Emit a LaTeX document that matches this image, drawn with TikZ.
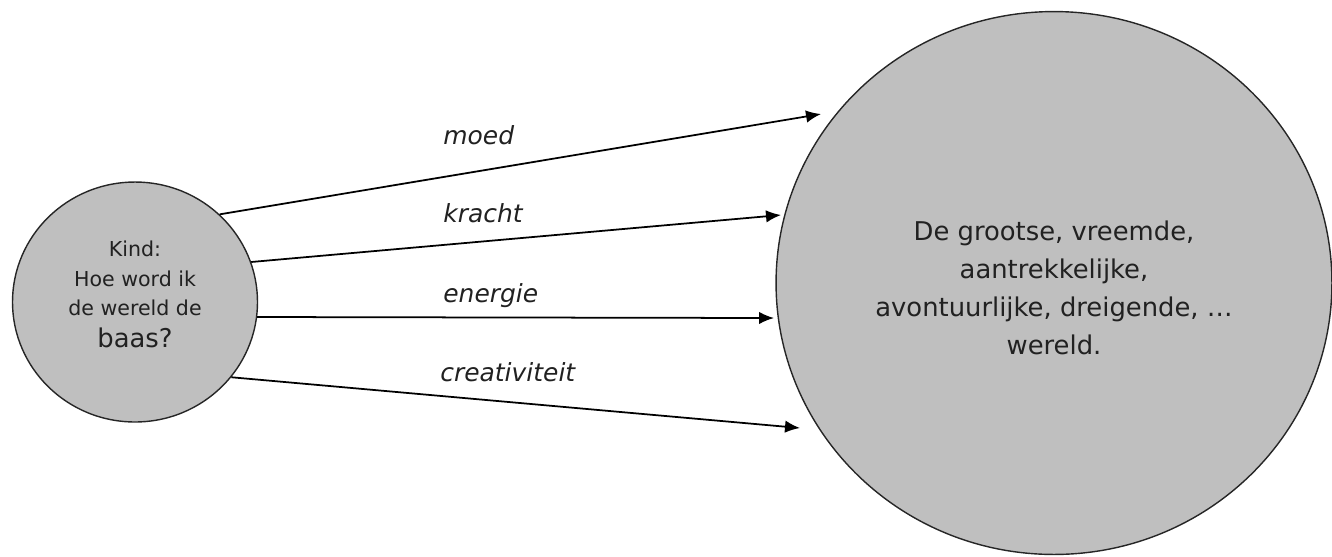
\documentclass[tikz,border=0pt]{standalone}
\usepackage{fontspec}
\setmainfont{DejaVu Sans}
\usetikzlibrary{arrows.meta,shapes.geometric}

\tikzset{
  bol/.style={ellipse, draw=black!85, fill=black!25, line width=0.8pt, inner sep=0pt, align=center, text=black!87},
  pijl/.style={-{Latex[length=0.3cm,width=0.25cm]}, line width=1pt},
  woord/.style={anchor=west, inner sep=0pt, text=black!87, font=\fontsize{14.2}{17}\selectfont\itshape}
}

\begin{document}
\begin{tikzpicture}[x=0.02cm,y=-0.02cm]
	\useasboundingbox (0,0) rectangle (1332,556);

	% De twee cirkels
	\node[bol, minimum width=4.9cm, minimum height=4.8cm, font=\fontsize{11.7}{17}\selectfont] (kind) at (135,302)
		{Kind:\\Hoe word ik\\de wereld de\\[1pt]{\fontsize{14.7}{17}\selectfont baas?}\rule[-9pt]{0pt}{9pt}};
	\node[bol, minimum width=11.12cm, minimum height=10.86cm, font=\fontsize{14.7}{21.6}\selectfont] (wereld) at (1054,283)
		{\rule{0pt}{17pt}De grootse, vreemde,\\aantrekkelijke,\\avontuurlijke, dreigende, …\\wereld.};

	% Eindpunten van de pijlen
	\coordinate (t1) at (821,114);
	\coordinate (t2) at (781,215);
	\coordinate (t3) at (774,318);
	\coordinate (t4) at (800,428);

	% Woorden boven de pijlen
	\node[woord] (moed) at (443,135) {moed};
	\node[woord] (kracht) at (443,213) {kracht};
	\node[woord] (energie) at (443,296) {energie};
	\node[woord] (creativiteit) at (440,372) {creativiteit};

	% Pijlen
	\foreach \van/\naar in {kind.46/t1, kind.19/t2, kind.-7/t3, kind.-38/t4}
		\draw[pijl] (\van) -- (\naar);

\end{tikzpicture}
\end{document}
